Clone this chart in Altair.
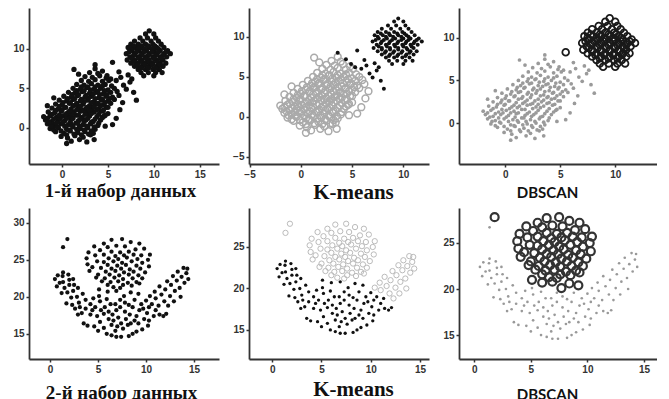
import altair as alt
import pandas as pd

# ---------------- dataset 1 ----------------
d1_lower_x = [1.0,1.9,2.7, -0.1,0.6,1.4,2.3,3.1, -0.7,0.2,0.9,1.7,2.5,3.4,
  -1.3,-0.4,0.5,1.2,2.0,2.8,3.6, -1.6,-0.9,-0.1,0.7,1.5,2.3,3.1,3.9,
  -1.8,-1.1,-0.4,0.3,1.0,1.8,2.6,3.4,4.2, -2.0,-1.3,-0.6,0.1,0.8,1.5,2.2,3.0,3.8,4.6,
  -1.5,-0.8,-0.1,0.6,1.3,2.0,2.8,3.5,4.3,5.0, -1.1,-0.4,0.3,1.0,1.8,2.5,3.3,4.0,4.8,
  -0.7,0.0,0.8,1.5,2.3,3.0,3.8,4.5,5.3, -0.3,0.5,1.2,2.0,2.8,3.5,4.3,5.0,5.7,
  0.2,1.0,1.7,2.5,3.2,4.0,4.8,5.5,6.2, 0.7,1.4,2.2,3.0,3.7,4.5,5.3,6.0,
  1.2,2.0,2.7,3.5,4.2,5.0,5.7, 1.6,2.4,3.2,3.9,4.7,5.4, 2.1,2.9,3.6,4.4,5.1,
  2.5,3.3,4.1,4.8, 1.8,3.0,3.9, 1.3,3.6,
  0.5,3.5,4.7,5.5,5.9,6.3,6.6,-1.6,-0.9,
  0.5,1.3,2.1,2.9, -0.9,-0.1,0.8,1.6,2.4,3.2, -1.2,-0.5,0.3,1.1,1.9,2.7,3.5,
  -1.4,-0.6,0.1,0.9,1.7,2.4,3.2,4.0, -1.6,-0.9,-0.2,0.5,1.2,2.0,2.8,3.6,4.4,
  -1.1,-0.3,0.4,1.1,1.8,2.5,3.2,4.0,4.7, -0.7,0.0,0.8,1.6,2.3,3.0,3.8,4.5,
  -0.3,0.4,1.2,2.0,2.7,3.5,4.2,5.0, 0.1,0.9,1.6,2.4,3.2,3.9,4.7,
  0.6,1.4,2.1,2.9,3.6,4.4,5.2, 1.1,1.8,2.6,3.4,4.1,4.9, 1.6,2.4,3.1,3.9,4.6,
  2.1,2.8,3.6,4.4]
d1_lower_y = [-1.7,-1.5,-1.8, -1.1,-1.3,-1.0,-1.2,-0.9, -0.5,-0.7,-0.4,-0.6,-0.5,-0.7,
  -0.1,0.0,-0.2,0.1,-0.1,0.0,-0.2, 0.5,0.3,0.5,0.4,0.6,0.4,0.5,0.3,
  1.0,0.8,1.0,0.9,1.1,0.9,1.0,0.8,1.0, 1.4,1.5,1.3,1.5,1.4,1.6,1.3,1.5,1.4,1.5,
  2.0,1.9,2.1,1.9,2.0,2.1,1.9,2.0,2.1,1.8, 2.5,2.4,2.6,2.4,2.5,2.3,2.5,2.4,2.6,
  3.0,2.9,3.1,2.9,3.0,2.8,3.0,2.9,3.1, 3.5,3.4,3.6,3.4,3.5,3.3,3.5,3.4,3.6,
  4.0,3.9,4.1,3.9,4.0,3.8,4.0,3.9,4.1, 4.5,4.4,4.6,4.4,4.5,4.3,4.5,4.6,
  5.0,4.9,5.1,4.9,5.0,4.8,5.0, 5.5,5.4,5.6,5.4,5.5,5.3, 6.0,5.9,6.1,5.9,6.0,
  6.5,6.4,6.6,6.3, 6.8,7.0,6.9, 7.4,7.5,
  -2.0,-1.5,0.2,0.4,1.2,2.3,3.2,2.8,3.8,
  -0.9,-0.8,-0.9,-0.8, -0.3,-0.4,-0.3,-0.2,-0.3,-0.4, 0.2,0.1,0.2,0.3,0.2,0.2,0.1,
  0.7,0.6,0.7,0.7,0.6,0.8,0.7,0.6, 1.2,1.1,1.2,1.2,1.2,1.1,1.2,1.1,1.3,
  1.7,1.6,1.7,1.8,1.6,1.7,1.8,1.7,1.6, 2.2,2.2,2.1,2.3,2.2,2.2,2.3,2.2,
  2.7,2.6,2.8,2.7,2.6,2.7,2.8,2.6, 3.2,3.2,3.1,3.3,3.2,3.1,3.2,
  3.7,3.7,3.6,3.8,3.7,3.6,3.7, 4.2,4.2,4.1,4.3,4.2,4.2, 4.7,4.7,4.8,4.6,4.7,
  5.2,5.2,5.2,5.3]

d1_bridge_x = [3.6,4.4,4.9,5.3,5.9,6.4,6.7,7.0,7.4,7.8,8.1,7.2,7.6,6.2]
d1_bridge_y = [8.0,7.2,6.6,6.2,6.0,6.4,5.4,4.9,5.8,4.5,3.5,6.7,6.2,7.1]

d1_upper_x = [9.5, 9.1,10.0, 8.5,9.3,10.2, 7.9,8.8,9.7,10.5, 7.5,8.3,9.1,9.9,10.8,
  7.2,8.0,8.7,9.5,10.3,11.1, 7.6,8.4,9.2,10.0,10.7,11.5, 7.0,7.9,8.7,9.5,10.3,11.1,11.8,
  7.4,8.3,9.1,9.9,10.7,11.4, 7.1,7.9,8.7,9.5,10.3,11.0, 7.5,8.3,9.1,9.9,10.7,11.3,
  7.9,8.7,9.5,10.3,11.0, 8.3,9.1,9.9,10.6, 8.6,9.4,10.2,10.9, 8.9,10.0,
  7.8,8.6,9.4,10.1, 7.5,8.3,9.0,9.8,10.5, 7.3,8.1,8.9,9.8,10.5,11.3,
  7.8,8.6,9.4,10.2,11.0, 7.6,8.4,9.2,10.0,10.8, 7.9,8.7,9.5,10.4, 8.2,9.0,9.8,10.6,
  8.6,9.4,10.2, 5.5]
d1_upper_y = [12.3, 11.9,11.9, 11.4,11.4,11.4, 11.0,11.0,11.0,11.0, 10.6,10.6,10.6,10.6,10.6,
  10.2,10.2,10.2,10.2,10.2,10.2, 9.8,9.8,9.8,9.8,9.8,9.8, 9.4,9.4,9.4,9.4,9.4,9.4,9.4,
  9.0,9.0,9.0,9.0,9.0,9.0, 8.6,8.6,8.6,8.6,8.6,8.6, 8.2,8.2,8.2,8.2,8.2,8.2,
  7.8,7.8,7.8,7.8,7.8, 7.4,7.4,7.4,7.4, 7.0,7.0,7.0,7.0, 6.6,6.6,
  10.4,10.4,10.4,10.4, 10.0,10.0,10.0,10.0,10.0, 9.6,9.6,9.6,9.6,9.6,9.6,
  9.2,9.2,9.2,9.2,9.2, 8.8,8.8,8.8,8.8,8.8, 8.4,8.4,8.4,8.4, 8.0,8.0,8.0,8.0,
  7.6,7.6,7.6, 8.3]

# ---------------- dataset 2 ----------------
d2_top_x = [6.4,7.5, 5.6,8.4,9.3, 4.6,6.0,6.9,7.8, 5.2,8.9,9.8, 4.0,6.4,7.3,8.2,10.4,
  4.7,5.6,6.8,7.7,8.7,9.5, 3.8,6.1,7.1,8.0,9.1,10.2, 4.9,5.6,6.6,7.5,8.5,9.6,
  3.9,4.4,6.0,7.0,7.9,9.0,10.3, 5.3,6.4,7.4,8.3,9.4, 4.1,5.8,6.8,7.7,8.7,9.9,
  5.0,6.2,7.2,8.2,9.2, 4.8,5.7,6.7,7.6,8.6,9.6, 5.4,6.3,7.1,8.1,9.0,
  6.0,7.6,8.5,9.3, 6.6,7.3, 1.8]
d2_top_y = [27.7,27.8, 27.2,27.4,27.2, 26.8,26.7,26.9,26.8, 26.3,26.4,26.5, 26.0,26.1,26.0,26.1,25.7,
  25.6,25.7,25.5,25.6,25.7,25.6, 25.2,25.2,25.1,25.3,25.1,25.0, 24.8,24.7,24.8,24.6,24.8,24.6,
  24.4,24.0,24.3,24.2,24.3,24.2,24.1, 23.9,23.8,23.8,23.7,23.8, 23.5,23.4,23.5,23.3,23.4,23.3,
  23.0,23.0,22.9,23.0,22.9, 22.6,22.5,22.6,22.4,22.5,22.5, 22.1,22.0,22.1,21.9,22.0,
  21.6,21.6,21.5,21.8, 21.3,21.2, 27.8]

d2_link_x = [5.1,6.0,6.9,7.7,8.4,9.2]
d2_link_y = [21.0,20.7,20.8,20.1,20.6,20.4]

d2_arc_x = [0.5,1.35,1.3,1.9,2.4,0.7,1.35,1.5,2.0,2.5, 1.8,2.4,2.9,1.7,2.2,2.8,3.0,3.4,3.7,2.6,
  3.3,3.7,4.2,3.5,4.2,4.5,4.7,5.1,5.2,4.9, 5.3,5.7,5.6,5.9,6.3,6.1,5.2,5.6,6.1,6.4,
  5.9,6.8,6.9,7.4,7.4,7.1,6.9,6.8,7.3,7.8, 7.8,7.9,8.3,8.1,8.6,8.8,9.0,8.6,9.3,9.5,
  8.8,9.2,9.6,9.8,10.1,10.3,10.0,10.6,10.8,11.0, 11.3,11.8,10.3,
  0.8,1.0,1.2,2.0,2.3,2.9,3.9,4.6,5.0,6.4, 7.0,7.6,8.2,8.4,9.0,10.2,11.4,12.1,6.5,7.3,
  8.2,6.6,9.7,4.4,3.1]
d2_arc_y = [22.4,23.3,22.8,23.0,22.4,21.4,22.0,21.2,21.6,21.6, 20.6,20.8,21.2,19.1,19.9,20.0,19.2,20.4,19.6,18.4,
  17.8,18.4,19.0,16.4,17.6,19.8,18.6,20.1,19.4,17.4, 18.2,18.6,17.7,19.7,19.0,18.0,16.6,15.8,17.0,16.2,
  15.0,15.4,14.6,14.6,16.4,17.2,18.2,19.0,19.6,19.2, 18.0,17.0,17.6,16.2,15.0,16.8,17.4,18.6,18.2,19.0,
  19.6,16.4,15.6,17.0,17.8,18.6,19.5,19.0,17.4,18.2, 18.8,17.4,16.8,
  22.9,21.9,20.5,22.3,18.9,17.6,16.1,16.0,15.4,14.8, 16.0,15.7,14.7,16.4,15.3,16.1,17.6,17.7,17.6,18.6,
  18.9,16.8,18.4,18.2,18.6]

d2_arm_x = [10.4,10.9,11.0,11.4,11.6,11.9,12.0,12.2,12.3,12.5,12.6,12.8,12.9,13.0,13.2,
  13.3,13.5,13.6,13.7,13.9,14.0,14.2,14.4,14.3, 1.35]
d2_arm_y = [20.1,20.7,19.8,21.4,20.3,19.4,21.0,22.1,18.8,20.1,21.6,22.8,19.4,20.8,22.2,
  23.4,21.2,20.0,22.7,23.9,21.9,23.2,22.4,23.8, 26.7]


def pts(xs, ys):
    return pd.DataFrame({"x": xs, "y": ys})


L1 = pts(d1_lower_x, d1_lower_y)
B1 = pts(d1_bridge_x, d1_bridge_y)
U1 = pts(d1_upper_x, d1_upper_y)
ALL1 = pd.concat([L1, B1, U1], ignore_index=True)
KM1_black = pd.concat([B1, U1], ignore_index=True)
DB1_gray = pd.concat([L1, B1], ignore_index=True)

T2 = pts(d2_top_x, d2_top_y)
K2 = pts(d2_link_x, d2_link_y)
A2 = pts(d2_arc_x, d2_arc_y)
R2 = pts(d2_arm_x, d2_arm_y)
ALL2 = pd.concat([T2, K2, A2, R2], ignore_index=True)
KM2_black = pd.concat([A2, K2], ignore_index=True)
KM2_gray = pd.concat([T2, R2], ignore_index=True)
DB2_black = pd.concat([T2, K2], ignore_index=True)
DB2_gray = pd.concat([A2, R2], ignore_index=True)


def panel(layers, xd, yd, xv, yv, w, h, title, tfont, tsize, tweight, tx, ty):
    xax = alt.Axis(values=xv, title=title, titleFont=tfont, titleFontSize=tsize,
                   titleFontWeight=tweight, titleX=tx, titleY=ty, titleAlign="center",
                   titleBaseline="alphabetic", titleColor="#111", labelFlush=False)
    yax = alt.Axis(values=yv, title=None, labelFlush=False)
    charts = []
    for df, kind, size, color, sw in layers:
        if kind == "dot":
            m = alt.Chart(df).mark_circle(size=size, color=color, opacity=1, clip=True)
        else:
            m = alt.Chart(df).mark_point(shape="circle", filled=False, size=size,
                                         color=color, strokeWidth=sw, opacity=1, clip=True)
        charts.append(m.encode(
            x=alt.X("x:Q", scale=alt.Scale(domain=xd, nice=False, zero=False), axis=xax),
            y=alt.Y("y:Q", scale=alt.Scale(domain=yd, nice=False, zero=False), axis=yax)))
    return alt.layer(*charts).properties(width=w, height=h)


SERIF = "Liberation Serif"
SANS = "Lato"

p1 = panel([(ALL1, "dot", 28, "#111", 0)], [-3.6, 17.1], [-4.6, 15.2],
           [0, 5, 10, 15], [0, 5, 10], 190, 156,
           "1-й набор данных", SERIF, 19, "bold", 91, 32)
p2 = panel([(L1, "ring", 46, "#aaaaaa", 1.5), (KM1_black, "dot", 16, "#111", 0)],
           [-5.05, 12.5], [-5.9, 13.6], [-5, 0, 5, 10], [-5, 0, 5, 10], 180, 156,
           "K-means", SERIF, 21, "bold", 104, 34)
p3 = panel([(DB1_gray, "dot", 14, "#9a9a9a", 0), (U1, "ring", 45, "#1a1a1a", 1.8)],
           [-4.2, 13.8], [-4.8, 13.5], [0, 5, 10], [0, 5, 10], 198, 156,
           "DBSCAN", SANS, 15, "bold", 88, 33)
p4 = panel([(ALL2, "dot", 18, "#111", 0)], [-2.2, 17.6], [11.6, 32.0],
           [0, 5, 10, 15], [15, 20, 25, 30], 190, 151,
           "2-й набор данных", SERIF, 19, "bold", 92, 39)
p5 = panel([(KM2_gray, "ring", 28, "#bbbbbb", 1.0), (KM2_black, "dot", 11, "#111", 0)],
           [-2.35, 15.9], [11.5, 29.7], [0, 5, 10, 15], [15, 20, 25], 180, 151,
           "K-means", SERIF, 21, "bold", 104, 36)
p6 = panel([(DB2_gray, "dot", 7, "#999999", 0), (DB2_black, "ring", 64, "#333333", 2.2)],
           [-1.35, 16.15], [12.4, 28.8], [0, 5, 10, 15], [15, 20, 25], 198, 151,
           "DBSCAN", SANS, 15, "bold", 88, 40)

chart = alt.concat(p1, p2, p3, p4, p5, p6, columns=3, bounds="flush",
                   spacing={"row": 44, "column": 30}).properties(
    padding={"left": 4, "top": 0, "right": 0, "bottom": 0}
).configure_view(stroke=None).configure_axis(
    grid=False, domainColor="#333333", domainWidth=1.8, tickColor="#333333",
    tickWidth=1.5, tickSize=3, labelFont="Liberation Sans", labelFontSize=10,
    labelFontWeight="bold", labelColor="#333333", labelPadding=2, labelOverlap=False
)

chart.save("out.html", embed_options={"renderer": "svg", "actions": False})
